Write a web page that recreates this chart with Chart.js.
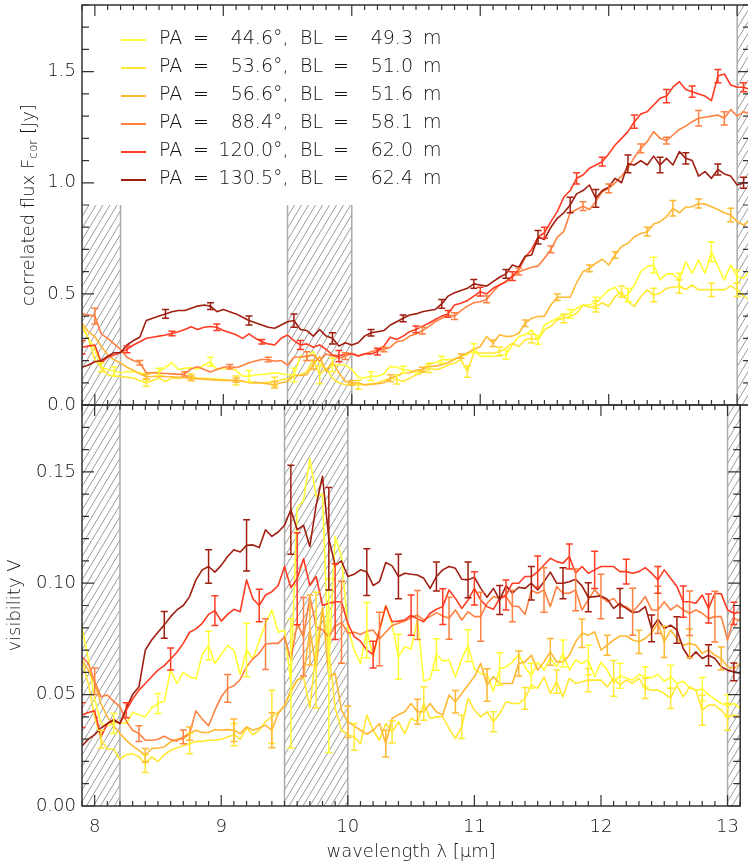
<!DOCTYPE html>
<html lang="en">
<head>
<meta charset="UTF-8">
<title>Correlated flux and visibility</title>
<script src="https://cdn.jsdelivr.net/npm/chart.js"></script>
<style>
  html, body { margin: 0; padding: 0; background: #fff; overflow: hidden; }
  #wrap { position: relative; width: 748px; height: 864px; }
  #wrap canvas { position: absolute; left: 0; top: 0; }
</style>
</head>
<body>
<div id="wrap">
  <canvas id="fluxChart" width="750" height="864"></canvas>
  <canvas id="visChart" width="750" height="864"></canvas>
</div>
<script>
// wavelength grid in micron
const wavelength = [
  7.90, 7.95, 8.00, 8.05, 8.10, 8.15, 8.20, 8.25, 8.30, 8.35,
  8.40, 8.45, 8.50, 8.55, 8.60, 8.65, 8.70, 8.75, 8.80, 8.85,
  8.90, 8.95, 9.00, 9.05, 9.10, 9.15, 9.20, 9.25, 9.30, 9.35,
  9.40, 9.45, 9.50, 9.55, 9.60, 9.65, 9.70, 9.75, 9.80, 9.85,
  9.90, 9.95, 10.00, 10.05, 10.10, 10.15, 10.20, 10.25, 10.30, 10.35,
  10.40, 10.45, 10.50, 10.55, 10.60, 10.65, 10.70, 10.75, 10.80, 10.85,
  10.90, 10.95, 11.00, 11.05, 11.10, 11.15, 11.20, 11.25, 11.30, 11.35,
  11.40, 11.45, 11.50, 11.55, 11.60, 11.65, 11.70, 11.75, 11.80, 11.85,
  11.90, 11.95, 12.00, 12.05, 12.10, 12.15, 12.20, 12.25, 12.30, 12.35,
  12.40, 12.45, 12.50, 12.55, 12.60, 12.65, 12.70, 12.75, 12.80, 12.85,
  12.90, 12.95, 13.00, 13.05, 13.10
];

const posAngles = [44.6, 53.6, 56.6, 88.4, 120.0, 130.5];
const baselines = [49.3, 51.0, 51.6, 58.1, 62.0, 62.4];
const colors = ['#ffff33', '#ffe733', '#ffb833', '#ff8040', '#ff3b22', '#a01e10'];

// correlated flux [Jy]
const fluxS1 = [
  0.36, 0.30, 0.25, 0.17, 0.16, 0.152, 0.145, 0.15, 0.15, 0.145,
  0.14, 0.145, 0.15, 0.17, 0.19, 0.16, 0.165, 0.168, 0.16, 0.18,
  0.195, 0.16, 0.165, 0.165, 0.155, 0.13, 0.13, 0.135, 0.137, 0.14,
  0.145, 0.14, 0.137, 0.135, 0.22, 0.215, 0.24, 0.19, 0.16, 0.18,
  0.18, 0.18, 0.16, 0.125, 0.121, 0.13, 0.129, 0.14, 0.174, 0.17,
  0.159, 0.155, 0.144, 0.16, 0.189, 0.19, 0.204, 0.205, 0.204, 0.22,
  0.226, 0.256, 0.219, 0.22, 0.219, 0.225, 0.226, 0.27, 0.308, 0.316,
  0.338, 0.293, 0.36, 0.376, 0.39, 0.405, 0.41, 0.435, 0.45, 0.45,
  0.46, 0.488, 0.518, 0.53, 0.488, 0.495, 0.54, 0.60, 0.623, 0.63,
  0.563, 0.59, 0.59, 0.563, 0.644, 0.593, 0.653, 0.593, 0.69, 0.623,
  0.563, 0.63, 0.578, 0.57, 0.608
];
const fluxS2 = [
  0.353, 0.30, 0.204, 0.17, 0.136, 0.13, 0.129, 0.125, 0.121, 0.11,
  0.099, 0.11, 0.121, 0.106, 0.121, 0.12, 0.125, 0.125, 0.121, 0.12,
  0.118, 0.117, 0.115, 0.111, 0.11, 0.106, 0.103, 0.099, 0.10, 0.102,
  0.105, 0.114, 0.118, 0.132, 0.136, 0.15, 0.204, 0.136, 0.166, 0.12,
  0.10, 0.091, 0.095, 0.091, 0.091, 0.095, 0.099, 0.11, 0.121, 0.115,
  0.106, 0.12, 0.136, 0.145, 0.166, 0.159, 0.166, 0.18, 0.189, 0.204,
  0.15, 0.234, 0.234, 0.234, 0.234, 0.24, 0.256, 0.278, 0.263, 0.293,
  0.30, 0.293, 0.338, 0.355, 0.383, 0.39, 0.398, 0.413, 0.45, 0.44,
  0.443, 0.46, 0.443, 0.488, 0.51, 0.466, 0.443, 0.488, 0.518, 0.495,
  0.503, 0.525, 0.53, 0.533, 0.52, 0.54, 0.518, 0.52, 0.518, 0.52,
  0.518, 0.536, 0.518, 0.49, 0.473
];
const fluxS3 = [
  0.368, 0.33, 0.308, 0.263, 0.226, 0.204, 0.189, 0.17, 0.156, 0.14,
  0.128, 0.128, 0.13, 0.128, 0.127, 0.125, 0.123, 0.12, 0.118, 0.116,
  0.114, 0.112, 0.11, 0.11, 0.112, 0.108, 0.10, 0.102, 0.099, 0.095,
  0.091, 0.10, 0.106, 0.132, 0.133, 0.136, 0.181, 0.219, 0.151, 0.196,
  0.144, 0.106, 0.099, 0.10, 0.091, 0.093, 0.096, 0.10, 0.121, 0.13,
  0.144, 0.145, 0.156, 0.16, 0.174, 0.175, 0.181, 0.19, 0.207, 0.22,
  0.234, 0.25, 0.263, 0.308, 0.278, 0.316, 0.308, 0.31, 0.323, 0.368,
  0.39, 0.398, 0.40, 0.45, 0.485, 0.485, 0.485, 0.55, 0.60, 0.615,
  0.638, 0.656, 0.63, 0.675, 0.713, 0.728, 0.757, 0.772, 0.78, 0.814,
  0.825, 0.847, 0.885, 0.865, 0.89, 0.892, 0.907, 0.904, 0.892, 0.88,
  0.865, 0.855, 0.825, 0.81, 0.832
];
const fluxS4 = [
  0.41, 0.405, 0.40, 0.32, 0.30, 0.275, 0.25, 0.215, 0.20, 0.19,
  0.145, 0.145, 0.144, 0.142, 0.14, 0.138, 0.14, 0.163, 0.172, 0.16,
  0.148, 0.16, 0.17, 0.172, 0.168, 0.178, 0.19, 0.198, 0.205, 0.205,
  0.197, 0.20, 0.18, 0.215, 0.216, 0.22, 0.225, 0.198, 0.23, 0.22,
  0.21, 0.22, 0.23, 0.222, 0.23, 0.24, 0.248, 0.25, 0.26, 0.285,
  0.29, 0.31, 0.32, 0.335, 0.353, 0.375, 0.39, 0.405, 0.40, 0.425,
  0.445, 0.46, 0.465, 0.475, 0.51, 0.54, 0.555, 0.575, 0.60, 0.61,
  0.62, 0.625, 0.66, 0.70, 0.755, 0.78, 0.865, 0.88, 0.895, 0.88,
  0.915, 0.96, 0.975, 1.0, 1.03, 1.065, 1.115, 1.155, 1.185, 1.23,
  1.20, 1.19, 1.215, 1.24, 1.255, 1.275, 1.29, 1.295, 1.30, 1.305,
  1.29, 1.33, 1.30, 1.32, 1.31
];
const fluxS5 = [
  0.26, 0.265, 0.27, 0.19, 0.215, 0.225, 0.237, 0.25, 0.27, 0.285,
  0.30, 0.305, 0.31, 0.315, 0.322, 0.33, 0.34, 0.352, 0.34, 0.35,
  0.353, 0.35, 0.335, 0.326, 0.316, 0.30, 0.32, 0.30, 0.285, 0.275,
  0.27, 0.30, 0.315, 0.29, 0.27, 0.275, 0.26, 0.27, 0.25, 0.225,
  0.22, 0.23, 0.232, 0.22, 0.23, 0.23, 0.24, 0.265, 0.305, 0.295,
  0.31, 0.33, 0.34, 0.355, 0.368, 0.385, 0.40, 0.41, 0.45, 0.458,
  0.47, 0.49, 0.51, 0.50, 0.525, 0.54, 0.555, 0.58, 0.61, 0.665,
  0.70, 0.755, 0.775, 0.825, 0.87, 0.935, 0.965, 1.02, 1.035, 1.065,
  1.08, 1.095, 1.13, 1.17, 1.20, 1.23, 1.275, 1.31, 1.32, 1.35,
  1.38, 1.39, 1.43, 1.455, 1.42, 1.41, 1.40, 1.39, 1.37, 1.48,
  1.49, 1.44, 1.43, 1.43, 1.42
];
const fluxS6 = [
  0.17, 0.18, 0.195, 0.20, 0.22, 0.235, 0.235, 0.27, 0.29, 0.305,
  0.38, 0.39, 0.40, 0.41, 0.42, 0.425, 0.425, 0.435, 0.445, 0.45,
  0.445, 0.42, 0.43, 0.42, 0.41, 0.395, 0.38, 0.37, 0.36, 0.35,
  0.345, 0.36, 0.375, 0.38, 0.34, 0.335, 0.31, 0.34, 0.31, 0.30,
  0.265, 0.28, 0.27, 0.28, 0.31, 0.325, 0.33, 0.335, 0.36, 0.375,
  0.39, 0.405, 0.41, 0.42, 0.425, 0.43, 0.455, 0.49, 0.505, 0.515,
  0.525, 0.545, 0.54, 0.535, 0.555, 0.575, 0.59, 0.63, 0.62, 0.67,
  0.675, 0.755, 0.745, 0.80, 0.84, 0.865, 0.90, 0.95, 0.965, 0.99,
  0.93, 0.965, 0.98, 1.02, 1.00, 1.085, 1.08, 1.10, 1.08, 1.12,
  1.08, 1.11, 1.08, 1.14, 1.11, 1.10, 1.03, 1.05, 1.02, 1.06,
  1.04, 1.03, 0.99, 1.00, 1.00
];

// visibility
const visS1 = [
  0.080, 0.066, 0.048, 0.037, 0.036, 0.037, 0.0375, 0.037, 0.042, 0.041,
  0.040, 0.044, 0.046, 0.047, 0.061, 0.055, 0.060, 0.058, 0.057, 0.068,
  0.072, 0.064, 0.068, 0.072, 0.070, 0.059, 0.070, 0.066, 0.074, 0.082,
  0.088, 0.078, 0.079, 0.055, 0.134, 0.137, 0.156, 0.139, 0.140, 0.063,
  0.121, 0.112, 0.080, 0.070, 0.064, 0.079, 0.067, 0.079, 0.090, 0.0815,
  0.067, 0.0715, 0.0705, 0.0835, 0.056, 0.057, 0.068, 0.065, 0.0655, 0.058,
  0.066, 0.072, 0.0615, 0.0595, 0.059, 0.0515, 0.0615, 0.0625, 0.0645, 0.068,
  0.0625, 0.0585, 0.0645, 0.061, 0.0665, 0.0625, 0.0685, 0.061, 0.0655, 0.064,
  0.0655, 0.058, 0.0645, 0.061, 0.0555, 0.0585, 0.0575, 0.0565, 0.059, 0.058,
  0.0575, 0.059, 0.056, 0.058, 0.055, 0.056, 0.053, 0.052, 0.0525, 0.050,
  0.048, 0.046, 0.045, 0.046, 0.044
];
const visS2 = [
  0.065, 0.055, 0.040, 0.030, 0.0255, 0.0255, 0.021, 0.023, 0.0235, 0.022,
  0.019, 0.022, 0.020, 0.023, 0.025, 0.026, 0.027, 0.028, 0.029, 0.029,
  0.0295, 0.0295, 0.030, 0.031, 0.032, 0.030, 0.035, 0.032, 0.034, 0.038,
  0.040, 0.042, 0.045, 0.051, 0.0565, 0.058, 0.044, 0.070, 0.089, 0.070,
  0.044, 0.034, 0.032, 0.031, 0.028, 0.0408, 0.034, 0.0295, 0.037, 0.0333,
  0.0378, 0.0325, 0.0393, 0.0378, 0.046, 0.0393, 0.040, 0.040, 0.0348, 0.0303,
  0.0355, 0.0483, 0.043, 0.040, 0.0423, 0.0378, 0.0415, 0.0468, 0.046, 0.046,
  0.0483, 0.0543, 0.0528, 0.058, 0.0505, 0.0558, 0.049, 0.0573, 0.055, 0.0558,
  0.0565, 0.0565, 0.0565, 0.0535, 0.0573, 0.0543, 0.0565, 0.055, 0.0573, 0.0528,
  0.052, 0.052, 0.0505, 0.0483, 0.0543, 0.049, 0.0535, 0.052, 0.043, 0.0453,
  0.0453, 0.043, 0.040, 0.0408, 0.040
];
const visS3 = [
  0.0655, 0.061, 0.055, 0.046, 0.040, 0.036, 0.0325, 0.0295, 0.027, 0.025,
  0.0228, 0.0258, 0.026, 0.0265, 0.0288, 0.030, 0.030, 0.0325, 0.034, 0.033,
  0.033, 0.0343, 0.034, 0.0343, 0.034, 0.0325, 0.0355, 0.034, 0.035, 0.0363,
  0.034, 0.0415, 0.045, 0.052, 0.0565, 0.058, 0.079, 0.062, 0.089, 0.058,
  0.0595, 0.043, 0.0378, 0.036, 0.034, 0.0322, 0.034, 0.037, 0.028, 0.0393,
  0.041, 0.0423, 0.046, 0.0423, 0.0423, 0.046, 0.0423, 0.0408, 0.0498, 0.0468,
  0.0505, 0.0543, 0.058, 0.064, 0.0543, 0.058, 0.055, 0.055, 0.055, 0.064,
  0.0647, 0.0677, 0.061, 0.0647, 0.0692, 0.0647, 0.0647, 0.0677, 0.0737, 0.0775,
  0.0767, 0.0782, 0.070, 0.0722, 0.0745, 0.0763, 0.0763, 0.0745, 0.0737, 0.0752,
  0.0778, 0.082, 0.0737, 0.079, 0.0752, 0.0722, 0.073, 0.0722, 0.0685, 0.070,
  0.0677, 0.0662, 0.0625, 0.0617, 0.064
];
const visS4 = [
  0.067, 0.064, 0.056, 0.049, 0.0498, 0.047, 0.0445, 0.038, 0.034, 0.0325,
  0.0295, 0.0295, 0.030, 0.0313, 0.0298, 0.0292, 0.031, 0.0325, 0.0427, 0.039,
  0.036, 0.043, 0.049, 0.0528, 0.054, 0.0568, 0.0625, 0.066, 0.0685, 0.0727,
  0.073, 0.073, 0.076, 0.0655, 0.082, 0.076, 0.094, 0.0805, 0.079, 0.076,
  0.0805, 0.0825, 0.0775, 0.078, 0.077, 0.0785, 0.079, 0.075, 0.078, 0.081,
  0.082, 0.083, 0.0845, 0.0857, 0.0835, 0.085, 0.0868, 0.0853, 0.0843, 0.088,
  0.0835, 0.0872, 0.085, 0.085, 0.091, 0.094, 0.0932, 0.094, 0.0898, 0.0895,
  0.086, 0.0967, 0.0955, 0.097, 0.0895, 0.0985, 0.0955, 0.0955, 0.097, 0.088,
  0.0925, 0.097, 0.094, 0.0917, 0.0932, 0.0895, 0.0895, 0.0872, 0.0902, 0.094,
  0.088, 0.088, 0.0917, 0.088, 0.0902, 0.088, 0.0865, 0.088, 0.0865, 0.0842,
  0.085, 0.085, 0.0745, 0.0843, 0.083
];
const visS5 = [
  0.0408, 0.042, 0.0427, 0.031, 0.037, 0.039, 0.037, 0.043, 0.048, 0.052,
  0.055, 0.058, 0.061, 0.063, 0.066, 0.069, 0.073, 0.078, 0.0795, 0.082,
  0.086, 0.0877, 0.083, 0.086, 0.0883, 0.0872, 0.1015, 0.093, 0.090, 0.0947,
  0.0962, 0.099, 0.1075, 0.098, 0.102, 0.111, 0.099, 0.103, 0.090, 0.091,
  0.0917, 0.0917, 0.082, 0.076, 0.074, 0.070, 0.068, 0.079, 0.0898, 0.0827,
  0.083, 0.0835, 0.0857, 0.084, 0.0827, 0.0865, 0.0883, 0.0895, 0.097, 0.0932,
  0.0887, 0.0925, 0.0977, 0.0925, 0.0895, 0.0883, 0.0932, 0.0947, 0.100, 0.100,
  0.103, 0.103, 0.1052, 0.1082, 0.1112, 0.1097, 0.109, 0.112, 0.1045, 0.1075,
  0.1045, 0.106, 0.1075, 0.1075, 0.1075, 0.1052, 0.1052, 0.1045, 0.1052, 0.107,
  0.1045, 0.1015, 0.106, 0.1022, 0.0985, 0.0917, 0.0917, 0.091, 0.0947, 0.0887,
  0.0955, 0.0952, 0.088, 0.0865, 0.087
];
const visS6 = [
  0.027, 0.030, 0.032, 0.035, 0.037, 0.0385, 0.037, 0.044, 0.050, 0.0535,
  0.070, 0.0745, 0.078, 0.0813, 0.085, 0.088, 0.090, 0.094, 0.1015, 0.106,
  0.1075, 0.105, 0.108, 0.112, 0.115, 0.114, 0.117, 0.1172, 0.116, 0.124,
  0.121, 0.123, 0.126, 0.133, 0.124, 0.126, 0.1165, 0.135, 0.148, 0.120,
  0.108, 0.110, 0.103, 0.104, 0.106, 0.105, 0.099, 0.1007, 0.1093, 0.1078,
  0.103, 0.1045, 0.104, 0.1037, 0.1022, 0.0977, 0.103, 0.106, 0.1075, 0.1067,
  0.1018, 0.1015, 0.1027, 0.0977, 0.0937, 0.0977, 0.0925, 0.0988, 0.0955, 0.0982,
  0.0977, 0.100, 0.097, 0.1007, 0.105, 0.100, 0.100, 0.1007, 0.1018, 0.0988,
  0.0937, 0.094, 0.0943, 0.0928, 0.0887, 0.091, 0.0887, 0.0868, 0.0872, 0.0895,
  0.0797, 0.0838, 0.0797, 0.0812, 0.079, 0.0707, 0.0662, 0.0692, 0.0662, 0.0677,
  0.0662, 0.0625, 0.061, 0.0602, 0.0595
];

// error bars: wavelengths where a bar is drawn, and half sizes per panel
const errAtS1 = [8.15, 8.5, 8.9, 9.2, 9.55, 9.85, 10.15, 10.4, 10.7, 10.95, 11.2, 11.45, 11.7, 11.9, 12.15, 12.35, 12.55, 12.8, 13.0];
const errAtS2 = [8.05, 8.4, 8.75, 9.1, 9.4, 9.75, 10.05, 10.35, 10.6, 10.9, 11.15, 11.4, 11.65, 11.9, 12.1, 12.35, 12.55, 12.8, 13.0];
const errAtS3 = [8.4, 8.75, 9.1, 9.4, 9.7, 10.0, 10.3, 10.55, 10.85, 11.1, 11.35, 11.6, 11.85, 12.05, 12.3, 12.5, 12.7, 12.95];
const errAtS4 = [8.0, 8.35, 8.7, 9.05, 9.35, 9.65, 9.95, 10.25, 10.55, 10.8, 11.05, 11.3, 11.55, 11.8, 12.0, 12.25, 12.45, 12.7, 12.9];
const errAtS5 = [7.9, 8.25, 8.6, 8.95, 9.3, 9.6, 9.9, 10.2, 10.5, 10.75, 11.0, 11.25, 11.5, 11.75, 11.95, 12.2, 12.45, 12.65, 12.85, 13.05];
const errAtS6 = [8.55, 8.9, 9.2, 9.55, 9.85, 10.15, 10.4, 10.7, 10.95, 11.2, 11.45, 11.7, 11.9, 12.15, 12.4, 12.6, 12.85, 13.05];

const fluxErrS1 = [0.02, 0.015, 0.02, 0.025, 0.03, 0.03, 0.02, 0.015, 0.015, 0.02, 0.02, 0.02, 0.02, 0.025, 0.03, 0.035, 0.03, 0.045, 0.03];
const fluxErrS2 = [0.02, 0.015, 0.015, 0.02, 0.02, 0.04, 0.02, 0.02, 0.02, 0.025, 0.02, 0.02, 0.02, 0.025, 0.025, 0.03, 0.03, 0.03, 0.03];
const fluxErrS3 = [0.01, 0.01, 0.01, 0.015, 0.02, 0.01, 0.015, 0.01, 0.01, 0.015, 0.015, 0.015, 0.015, 0.015, 0.02, 0.035, 0.02, 0.03];
const fluxErrS4 = [0.035, 0.01, 0.01, 0.01, 0.01, 0.02, 0.015, 0.01, 0.015, 0.015, 0.015, 0.015, 0.015, 0.02, 0.02, 0.02, 0.015, 0.035, 0.03];
const fluxErrS5 = [0.03, 0.015, 0.01, 0.015, 0.01, 0.02, 0.025, 0.015, 0.015, 0.015, 0.02, 0.02, 0.025, 0.025, 0.02, 0.03, 0.03, 0.025, 0.03, 0.02];
const fluxErrS6 = [0.02, 0.015, 0.02, 0.03, 0.025, 0.015, 0.015, 0.02, 0.02, 0.02, 0.03, 0.035, 0.04, 0.04, 0.035, 0.025, 0.025, 0.025];

const visErrS1 = [0.0045, 0.0045, 0.0064, 0.012, 0.029, 0.039, 0.0124, 0.0101, 0.0071, 0.0071, 0.0073, 0.0056, 0.006, 0.0067, 0.0056, 0.0045, 0.0052, 0.0052, 0.0049];
const visErrS2 = [0.004, 0.004, 0.0045, 0.005, 0.012, 0.026, 0.006, 0.005, 0.0075, 0.0052, 0.0045, 0.0049, 0.0052, 0.0052, 0.008, 0.0045, 0.0045, 0.0067, 0.006];
const visErrS3 = [0.003, 0.003, 0.005, 0.0079, 0.0157, 0.0071, 0.006, 0.0056, 0.005, 0.0073, 0.0056, 0.006, 0.0064, 0.0045, 0.0052, 0.007, 0.0064, 0.0052];
const visErrS4 = [0.006, 0.0035, 0.0031, 0.0062, 0.0114, 0.0176, 0.0184, 0.012, 0.011, 0.0094, 0.011, 0.0071, 0.01, 0.0094, 0.01, 0.0105, 0.0106, 0.01, 0.0114];
const visErrS5 = [0.0056, 0.0034, 0.0049, 0.0067, 0.0073, 0.0206, 0.017, 0.006, 0.009, 0.008, 0.0075, 0.0067, 0.007, 0.0056, 0.0084, 0.0056, 0.006, 0.007, 0.0065, 0.005];
const visErrS6 = [0.006, 0.0075, 0.0115, 0.02, 0.023, 0.0105, 0.01, 0.0065, 0.008, 0.0065, 0.0075, 0.007, 0.0065, 0.0066, 0.006, 0.006, 0.0047, 0.004];

// excluded wavelength ranges (hatched)
const hatchBands = [[7.9, 8.2], [9.5, 10.0], [13.0, 13.1]];

const FONT = '"DejaVu Sans", "Liberation Sans", sans-serif';
const TEXT = '#111';

const errAt = [errAtS1, errAtS2, errAtS3, errAtS4, errAtS5, errAtS6];

function makeDatasets(series, errs) {
  return series.map((vals, i) => ({
    label: 'PA = ' + posAngles[i].toFixed(1) + '°, BL = ' + baselines[i].toFixed(1) + ' m',
    data: wavelength.map((w, k) => ({ x: w, y: vals[k] })),
    borderColor: colors[i],
    borderWidth: 1.6,
    borderJoinStyle: 'round',
    pointRadius: 0,
    tension: 0,
    fill: false,
    order: 5 - i,
    errAt: errAt[i],
    errSize: errs[i]
  }));
}

const hatchPlugin = {
  id: 'hatch',
  beforeDatasetsDraw(chart, args, opts) {
    const { ctx, chartArea: a, scales: { x, y } } = chart;
    hatchBands.forEach((band, i) => {
      const x1 = Math.max(x.getPixelForValue(band[0]), a.left);
      const x2 = Math.min(x.getPixelForValue(band[1]), a.right);
      const top = opts.tops[i] == null ? a.top : y.getPixelForValue(opts.tops[i]);
      const h = a.bottom - top;
      const run = h * 0.6;
      ctx.save();
      ctx.beginPath();
      ctx.rect(x1, top, x2 - x1, h);
      ctx.clip();
      ctx.strokeStyle = '#9a9a9a';
      ctx.lineWidth = 1;
      ctx.beginPath();
      for (let sx = x1 - run - 7; sx < x2 + 7; sx += 7) {
        ctx.moveTo(sx, a.bottom);
        ctx.lineTo(sx + run, top);
      }
      ctx.stroke();
      ctx.restore();
      ctx.save();
      ctx.strokeStyle = '#aaaaaa';
      ctx.lineWidth = 1.5;
      band.forEach(v => {
        const px = x.getPixelForValue(v);
        if (px > a.left + 1 && px < a.right - 1) {
          ctx.beginPath();
          ctx.moveTo(px, top);
          ctx.lineTo(px, a.bottom);
          ctx.stroke();
        }
      });
      ctx.restore();
    });
  }
};

const errorBars = {
  id: 'errorBars',
  afterDatasetsDraw(chart) {
    const { ctx, chartArea: a, scales: { x, y } } = chart;
    ctx.save();
    ctx.beginPath();
    ctx.rect(a.left, a.top, a.right - a.left, a.bottom - a.top);
    ctx.clip();
    ctx.lineWidth = 1.5;
    chart.data.datasets.forEach(ds => {
      ctx.strokeStyle = ds.borderColor;
      ds.errAt.forEach((w, j) => {
        const k = wavelength.findIndex(v => Math.abs(v - w) < 1e-6);
        if (k < 0) return;
        const px = x.getPixelForValue(w);
        const lo = y.getPixelForValue(ds.data[k].y - ds.errSize[j]);
        const hi = y.getPixelForValue(ds.data[k].y + ds.errSize[j]);
        ctx.beginPath();
        ctx.moveTo(px, lo); ctx.lineTo(px, hi);
        ctx.moveTo(px - 3.5, lo); ctx.lineTo(px + 3.5, lo);
        ctx.moveTo(px - 3.5, hi); ctx.lineTo(px + 3.5, hi);
        ctx.stroke();
      });
    });
    ctx.restore();
  }
};

// frame plus inward ticks on all four sides
const frameTicks = {
  id: 'frameTicks',
  afterDraw(chart, args, opts) {
    const { ctx, chartArea: a, scales: { x, y } } = chart;
    ctx.save();
    ctx.strokeStyle = '#333';
    ctx.lineWidth = 1.5;
    ctx.strokeRect(a.left, a.top, a.right - a.left, a.bottom - a.top);
    ctx.lineWidth = 1.2;
    ctx.beginPath();
    for (let k = 79; k <= 131; k++) {
      const px = x.getPixelForValue(k / 10);
      const len = k % 10 === 0 ? 11 : 5;
      ctx.moveTo(px, a.bottom); ctx.lineTo(px, a.bottom - len);
      ctx.moveTo(px, a.top); ctx.lineTo(px, a.top + len);
    }
    for (let k = 0; k <= opts.count; k++) {
      const py = y.getPixelForValue(k * opts.minor);
      const len = k % 5 === 0 ? 12 : 7;
      ctx.moveTo(a.left, py); ctx.lineTo(a.left + len, py);
      ctx.moveTo(a.right, py); ctx.lineTo(a.right - len, py);
    }
    ctx.stroke();
    ctx.restore();
  }
};

const yTitle = {
  id: 'yTitle',
  afterDraw(chart, args, opts) {
    const { ctx, chartArea: a } = chart;
    const main = '200 18px ' + FONT;
    const sub = '200 12px ' + FONT;
    ctx.save();
    ctx.translate(opts.x, (a.top + a.bottom) / 2);
    ctx.rotate(-Math.PI / 2);
    ctx.fillStyle = TEXT;
    ctx.textBaseline = 'middle';
    ctx.textAlign = 'left';
    let total = 0;
    opts.parts.forEach(p => { ctx.font = p[1] ? sub : main; total += ctx.measureText(p[0]).width; });
    let cx = -total / 2;
    opts.parts.forEach(p => {
      ctx.font = p[1] ? sub : main;
      ctx.fillText(p[0], cx, p[1] ? 5 : 0);
      cx += ctx.measureText(p[0]).width;
    });
    ctx.restore();
  }
};

const legendTable = {
  id: 'legendTable',
  afterDraw(chart) {
    const { ctx } = chart;
    ctx.save();
    ctx.font = '200 19px ' + FONT;
    ctx.fillStyle = TEXT;
    ctx.textBaseline = 'middle';
    posAngles.forEach((pa, i) => {
      const yy = 40 + 28 * i;
      ctx.strokeStyle = colors[i];
      ctx.lineWidth = 2;
      ctx.beginPath();
      ctx.moveTo(121, yy); ctx.lineTo(146, yy);
      ctx.stroke();
      const ty = yy - 1;
      ctx.textAlign = 'left';  ctx.fillText('PA', 159, ty);
      ctx.textAlign = 'center'; ctx.fillText('=', 201, ty);
      ctx.textAlign = 'right'; ctx.fillText(pa.toFixed(1), 273, ty);
      ctx.textAlign = 'left';  ctx.fillText('°,', 273, ty);
      ctx.textAlign = 'left';  ctx.fillText('BL', 300, ty);
      ctx.textAlign = 'center'; ctx.fillText('=', 341, ty);
      ctx.textAlign = 'right'; ctx.fillText(baselines[i].toFixed(1), 413, ty);
      ctx.textAlign = 'left';  ctx.fillText('m', 423, ty);
    });
    ctx.restore();
  }
};

const tickFont = { family: FONT, size: 18, weight: '200' };

function yScale(max, step, digits) {
  return {
    min: 0, max: max,
    afterFit(s) { s.width = 82; s.paddingTop = 0; s.paddingBottom = 0; },
    border: { display: false },
    grid: { display: false, drawTicks: false },
    ticks: {
      stepSize: step, includeBounds: false, padding: 6, color: TEXT, font: tickFont,
      callback: v => Number(v).toFixed(digits)
    }
  };
}

new Chart(document.getElementById('fluxChart'), {
  type: 'line',
  data: { datasets: makeDatasets([fluxS1, fluxS2, fluxS3, fluxS4, fluxS5, fluxS6],
                                 [fluxErrS1, fluxErrS2, fluxErrS3, fluxErrS4, fluxErrS5, fluxErrS6]) },
  options: {
    responsive: false, animation: false, events: [],
    layout: { padding: { top: 5, bottom: 459, left: 0, right: 0 } },
    plugins: {
      legend: { display: false }, tooltip: { enabled: false },
      hatch: { tops: [0.9, 0.9, null] },
      frameTicks: { minor: 0.1, count: 18 },
      yTitle: { x: 29, parts: [['correlated flux F', false], ['cor', true], [' [Jy]', false]] }
    },
    scales: {
      x: { type: 'linear', min: 7.9, max: 13.1, display: false },
      y: yScale(1.8, 0.5, 1)
    }
  },
  plugins: [hatchPlugin, errorBars, frameTicks, yTitle, legendTable]
});

new Chart(document.getElementById('visChart'), {
  type: 'line',
  data: { datasets: makeDatasets([visS1, visS2, visS3, visS4, visS5, visS6],
                                 [visErrS1, visErrS2, visErrS3, visErrS4, visErrS5, visErrS6]) },
  options: {
    responsive: false, animation: false, events: [],
    layout: { padding: { top: 405, bottom: 0, left: 0, right: 0 } },
    plugins: {
      legend: { display: false }, tooltip: { enabled: false },
      hatch: { tops: [null, null, null] },
      frameTicks: { minor: 0.01, count: 18 },
      yTitle: { x: 15, parts: [['visibility V', false]] }
    },
    scales: {
      x: {
        type: 'linear', min: 7.9, max: 13.1,
        afterFit(s) { s.height = 58; },
        border: { display: false },
        grid: { display: false, drawTicks: false },
        ticks: { stepSize: 1, includeBounds: false, padding: 11, maxRotation: 0, autoSkip: false,
                 color: TEXT, font: tickFont, callback: v => String(v) },
        title: { display: true, text: 'wavelength λ [μm]', color: TEXT,
                 font: { family: FONT, size: 18, weight: '200' }, padding: { top: 0, bottom: 1 } }
      },
      y: yScale(0.18, 0.05, 2)
    }
  },
  plugins: [hatchPlugin, errorBars, frameTicks, yTitle]
});
</script>
</body>
</html>
